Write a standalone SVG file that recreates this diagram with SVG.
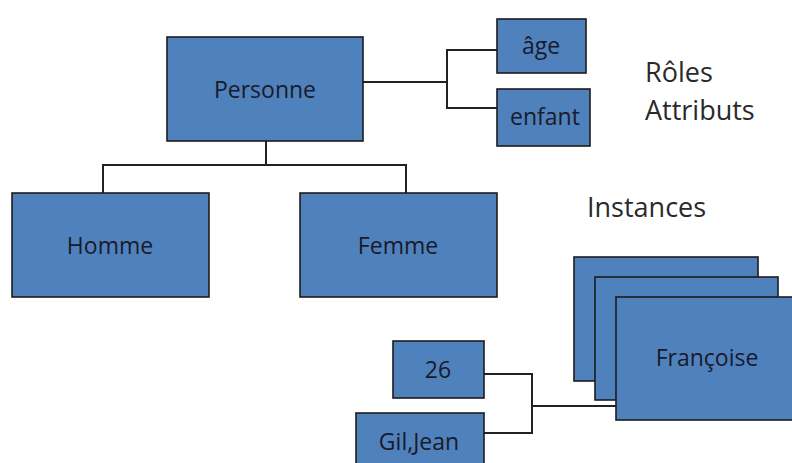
<svg xmlns="http://www.w3.org/2000/svg" width="792" height="463" viewBox="0 0 792 463">
  <style>
    .box { fill: #4f81bd; stroke: #1c1c1c; stroke-width: 1.6; }
    .lbl { font-family: "Open Sans", "Liberation Sans", sans-serif; font-size: 23px; fill: #1a1a2a; text-anchor: middle; }
    .side { font-family: "Open Sans", "Liberation Sans", sans-serif; font-size: 27px; fill: #2a2a2a; }
    .wire { fill: none; stroke: #222; stroke-width: 2; }
  </style>
  <rect width="792" height="463" fill="#fff"/>

  <g id="connectors">
    <!-- Personne to its attributes -->
    <path class="wire" d="M363,82 H447 M497,50 H447 V108 H497"/>
    <!-- Personne to subclasses -->
    <path class="wire" d="M266,141 V165 M103,193 V165 H406 V193"/>
    <!-- instance to its values -->
    <path class="wire" d="M484,374 H532 V433 H484 M532,406 H616"/>
  </g>

  <g id="personne">
    <rect class="box" x="167" y="37" width="196" height="104"/>
    <text class="lbl" x="265" y="98">Personne</text>
  </g>
  <g id="age">
    <rect class="box" x="497" y="19" width="89" height="54"/>
    <text class="lbl" x="541" y="54">âge</text>
  </g>
  <g id="enfant">
    <rect class="box" x="497" y="89" width="93" height="57"/>
    <text class="lbl" x="545" y="125">enfant</text>
  </g>
  <g id="homme">
    <rect class="box" x="12" y="193" width="197" height="104"/>
    <text class="lbl" x="110" y="254">Homme</text>
  </g>
  <g id="femme">
    <rect class="box" x="300" y="193" width="197" height="104"/>
    <text class="lbl" x="398" y="254">Femme</text>
  </g>

  <g id="instances">
    <rect class="box" x="574" y="257" width="184" height="124"/>
    <rect class="box" x="595" y="277" width="183" height="123"/>
    <rect class="box" x="616" y="297" width="184" height="123"/>
    <text class="lbl" x="707" y="366">Françoise</text>
  </g>
  <g id="val-26">
    <rect class="box" x="393" y="341" width="91" height="57"/>
    <text class="lbl" x="438" y="378">26</text>
  </g>
  <g id="val-giljean">
    <rect class="box" x="356" y="413" width="128" height="60"/>
    <text class="lbl" x="419" y="450">Gil,Jean</text>
  </g>

  <g id="legend">
    <text class="side" x="645" y="82">Rôles</text>
    <text class="side" x="645" y="120">Attributs</text>
    <text class="side" x="587" y="217">Instances</text>
  </g>
</svg>
